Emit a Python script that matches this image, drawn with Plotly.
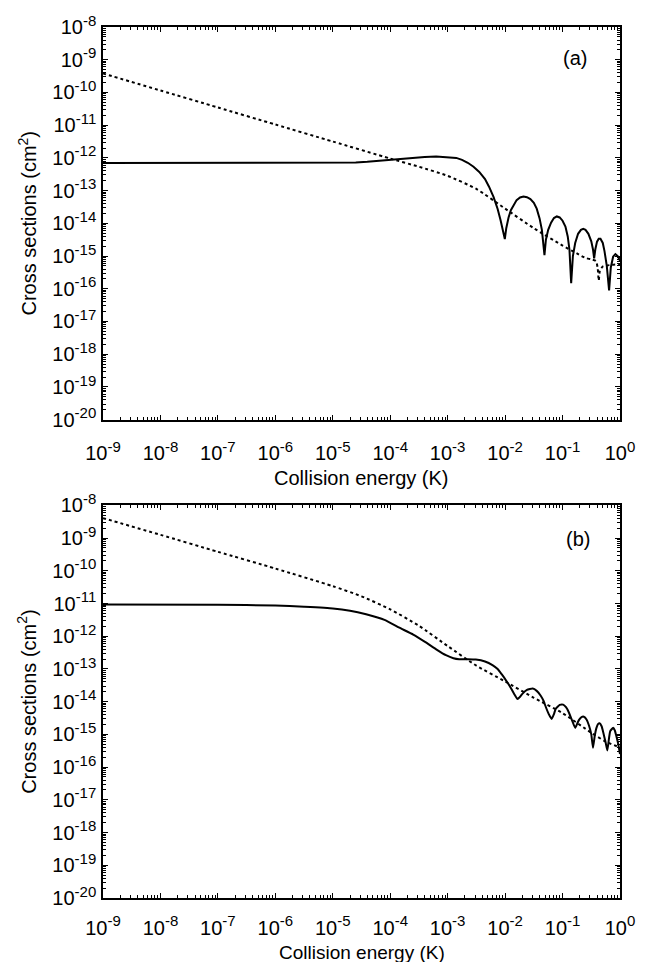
import plotly.graph_objects as go

# ---------------- data (as log10 values) ----------------
# Panel (a): solid curve
log_energy_a_solid = [-9, -8, -7, -6, -5.5, -5, -4.8, -4.6, -4.4, -4.2, -4.0, -3.8, -3.6, -3.4, -3.2, -3.0,
                      -2.85, -2.75, -2.65, -2.55, -2.45, -2.35, -2.28, -2.2, -2.13, -2.08, -2.05, -2.005,
                      -1.98, -1.94, -1.90, -1.85, -1.80, -1.74, -1.68, -1.62, -1.56, -1.50, -1.45, -1.40,
                      -1.36, -1.315, -1.29, -1.25, -1.20, -1.15, -1.10, -1.05, -1.00, -0.95, -0.91, -0.88,
                      -0.85, -0.82, -0.78, -0.73, -0.68, -0.64, -0.60, -0.55, -0.50, -0.47, -0.45, -0.43,
                      -0.40, -0.37, -0.34, -0.30, -0.27, -0.23, -0.19, -0.16, -0.12, -0.08, -0.04, 0.0]
log_sigma_a_solid = [-12.16, -12.16, -12.16, -12.16, -12.16, -12.155, -12.15, -12.14, -12.12, -12.09, -12.06,
                     -12.02, -11.99, -11.97, -11.96, -11.97, -12.0, -12.06, -12.15, -12.27, -12.43, -12.65,
                     -12.88, -13.2, -13.56, -13.9, -14.15, -14.48, -14.15, -13.82, -13.6, -13.42, -13.29,
                     -13.21, -13.18, -13.2, -13.26, -13.37, -13.55, -13.85, -14.2, -14.97, -14.5, -14.2,
                     -13.98, -13.84, -13.79, -13.82, -13.92, -14.1, -14.4, -14.8, -15.83, -15.0, -14.6,
                     -14.32, -14.2, -14.17, -14.2, -14.32, -14.55, -14.8, -15.07, -14.8, -14.56, -14.47,
                     -14.47, -14.6, -14.85, -15.3, -16.05, -15.35, -15.02, -14.94, -15.0, -15.15]
# Panel (a): dotted curve
log_energy_a_dot = [-9, -8, -7, -6, -5, -4, -3.5, -3, -2.5, -2, -1.5, -1, -0.75, -0.6, -0.5, -0.42,
                    -0.39, -0.37, -0.35, -0.3, -0.15, 0.0]
log_sigma_a_dot = [-9.42, -9.94, -10.46, -10.98, -11.5, -12.02, -12.27, -12.55, -12.95, -13.55, -14.15,
                   -14.68, -14.92, -15.06, -15.1, -15.15, -15.35, -15.75, -15.45, -15.32, -15.27, -15.25]

# Panel (b): solid curve
log_energy_b_solid = [-9, -7, -6, -5.5, -5, -4.7, -4.42, -4.1, -3.84, -3.6, -3.38, -3.2, -3.03, -2.9, -2.8,
                      -2.65, -2.51, -2.35, -2.22, -2.13, -2.06, -1.98, -1.90, -1.84, -1.785, -1.74, -1.70,
                      -1.62, -1.52, -1.45, -1.38, -1.33, -1.29, -1.24, -1.19, -1.15, -1.12, -1.05, -0.99,
                      -0.94, -0.89, -0.84, -0.78, -0.74, -0.71, -0.67, -0.63, -0.58, -0.54, -0.50, -0.47,
                      -0.44, -0.41, -0.38, -0.355, -0.32, -0.29, -0.25, -0.22, -0.19, -0.17, -0.12, -0.09,
                      -0.065, -0.03, 0.0]
log_sigma_b_solid = [-11.03, -11.035, -11.06, -11.1, -11.15, -11.22, -11.33, -11.5, -11.74, -11.95, -12.19,
                     -12.4, -12.58, -12.67, -12.70, -12.70, -12.71, -12.77, -12.88, -13.0, -13.16, -13.36,
                     -13.58, -13.77, -13.92, -13.85, -13.76, -13.64, -13.60, -13.67, -13.82, -13.98, -14.17,
                     -14.38, -14.53, -14.38, -14.22, -14.1, -14.09, -14.17, -14.33, -14.55, -14.80, -14.65,
                     -14.55, -14.47, -14.46, -14.55, -14.73, -15.0, -15.41, -15.05, -14.8, -14.68, -14.66,
                     -14.75, -14.95, -15.25, -15.49, -15.1, -14.9, -14.80, -14.88, -15.04, -15.3, -15.6]
# Panel (b): dotted curve
log_energy_b_dot = [-9, -8, -7, -6, -5, -4.5, -4, -3.5, -3, -2.5, -2, -1.5, -1, -0.5, -0.25, 0.0]
log_sigma_b_dot = [-8.39, -8.9, -9.42, -9.93, -10.47, -10.78, -11.18, -11.68, -12.3, -12.9, -13.38, -13.88,
                   -14.35, -14.95, -15.22, -15.4]

x_tick_vals = [1e-9, 1e-8, 1e-7, 1e-6, 1e-5, 1e-4, 1e-3, 1e-2, 1e-1, 1e0]
x_tick_exps = ["-9", "-8", "-7", "-6", "-5", "-4", "-3", "-2", "-1", "0"]
y_tick_vals = [1e-8, 1e-9, 1e-10, 1e-11, 1e-12, 1e-13, 1e-14, 1e-15, 1e-16, 1e-17, 1e-18, 1e-19, 1e-20]
y_tick_exps = ["-8", "-9", "-10", "-11", "-12", "-13", "-14", "-15", "-16", "-17", "-18", "-19", "-20"]

x_title = "Collision energy (K)"
y_title = "Cross sections (cm<sup>2</sup>)"
panel_labels = ["(a)", "(b)"]


def to_lin(vals):
    return [10.0 ** v for v in vals]


def pow_label(e):
    return "10<sup><span style='font-size:15px'>" + e + "</span></sup>"


# ---------------- figure ----------------
FONT = "Liberation Sans, Arial, Helvetica, sans-serif"
FS = 20
fig = go.Figure()

solid_a = dict(color="black", width=2)
solid_b = dict(color="black", width=2, shape="spline", smoothing=0.4)
dotted = dict(color="black", width=2, dash="dot", shape="spline", smoothing=0.6)

fig.add_trace(go.Scatter(x=to_lin(log_energy_a_dot), y=to_lin(log_sigma_a_dot), mode="lines", line=dotted,
                         xaxis="x", yaxis="y", showlegend=False))
fig.add_trace(go.Scatter(x=to_lin(log_energy_a_solid), y=to_lin(log_sigma_a_solid), mode="lines", line=solid_a,
                         xaxis="x", yaxis="y", showlegend=False))
fig.add_trace(go.Scatter(x=to_lin(log_energy_b_dot), y=to_lin(log_sigma_b_dot), mode="lines", line=dotted,
                         xaxis="x2", yaxis="y2", showlegend=False))
fig.add_trace(go.Scatter(x=to_lin(log_energy_b_solid), y=to_lin(log_sigma_b_solid), mode="lines", line=solid_b,
                         xaxis="x2", yaxis="y2", showlegend=False))

minor = dict(ticks="inside", ticklen=3, tickcolor="black", tickwidth=1, dtick="D1", showgrid=False)
xcommon = dict(type="log", range=[-9, 0], tickmode="array", tickvals=x_tick_vals,
               ticktext=[pow_label(e) for e in x_tick_exps],
               ticks="inside", ticklen=5, tickwidth=1, tickcolor="black",
               showline=True, linecolor="black", linewidth=1.5, mirror="allticks",
               showgrid=False, zeroline=False, minor=minor,
               tickfont=dict(family=FONT, size=FS, color="black"))
ycommon = dict(type="log", range=[-20, -8], tickmode="array", tickvals=y_tick_vals,
               ticktext=[pow_label(e) for e in y_tick_exps],
               ticks="inside", ticklen=5, tickwidth=1, tickcolor="black",
               showline=True, linecolor="black", linewidth=1.5, mirror="allticks",
               showgrid=False, zeroline=False, minor=minor,
               tickfont=dict(family=FONT, size=FS, color="black"), ticklabelstandoff=1)

top_dom = [0.5492, 1.0]
bot_dom = [0.0, 0.4508]

fig.update_layout(
    width=647, height=962,
    margin=dict(l=103, r=26, t=24, b=64),
    paper_bgcolor="white", plot_bgcolor="white",
    font=dict(family=FONT, size=FS, color="black"),
    xaxis=dict(xcommon, domain=[0, 1], anchor="y", ticklabelstandoff=15),
    yaxis=dict(ycommon, domain=top_dom, anchor="x"),
    xaxis2=dict(xcommon, domain=[0, 1], anchor="y2", ticklabelstandoff=11),
    yaxis2=dict(ycommon, domain=bot_dom, anchor="x2"),
)

ann = []
for yc, fs_t, ytitle_c, lab, (lx, ly) in [
        (0.4817, FS, (top_dom[0] + top_dom[1]) / 2, panel_labels[0], (0.913, 0.9645)),
        (-0.0625, 19, (bot_dom[0] + bot_dom[1]) / 2, panel_labels[1], (0.919, 0.4119))]:
    ann.append(dict(text=x_title, x=0.5, y=yc, xref="paper", yref="paper", showarrow=False,
                    xanchor="center", yanchor="middle", font=dict(family=FONT, size=fs_t)))
    ann.append(dict(text=y_title, x=-0.1467, y=ytitle_c, xref="paper", yref="paper", showarrow=False,
                    xanchor="center", yanchor="middle", textangle=-90, font=dict(family=FONT, size=FS)))
    ann.append(dict(text=lab, x=lx, y=ly, xref="paper", yref="paper", showarrow=False,
                    xanchor="center", yanchor="middle", font=dict(family=FONT, size=FS)))
fig.update_layout(annotations=ann)

# remove the page's default 8px body margin so the figure fills the window exactly
fig.write_html("out.html", config={"displayModeBar": False},
               post_script="document.body.style.margin='0';document.body.style.overflow='hidden';")
